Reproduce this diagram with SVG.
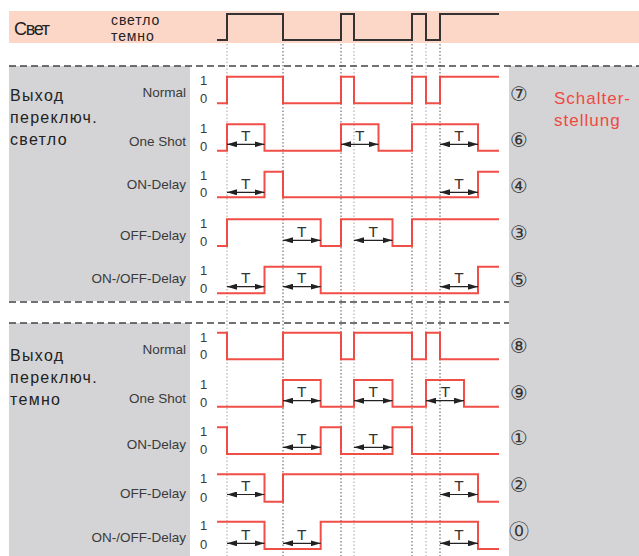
<svg xmlns="http://www.w3.org/2000/svg" width="639" height="556" viewBox="0 0 639 556">
<style>
.lbl{font-family:"Liberation Sans",Arial,sans-serif;font-size:13.5px;fill:#3a3a3a;text-anchor:end}
.lv{font-family:"Liberation Sans",Arial,sans-serif;font-size:13px;fill:#3a3a3a}
.ttl{font-family:"Liberation Sans",Arial,sans-serif;font-size:16px;fill:#222;letter-spacing:1.3px}
.wave{fill:none;stroke:#ee3b33;stroke-width:2;stroke-opacity:0.9}
.dash{stroke:#444;stroke-width:1.3;stroke-dasharray:7 4;fill:none}
.dotd{stroke:#444;stroke-width:0.9;stroke-dasharray:1.5 2;fill:none}
.dotl{stroke:#999;stroke-width:0.9;stroke-dasharray:1.5 2;fill:none}
.arr{stroke:#222;stroke-width:1.2;marker-start:url(#ah);marker-end:url(#ah)}
.t{font-family:"Liberation Sans",Arial,sans-serif;font-size:15.5px;fill:#333;text-anchor:middle}
.num{font-family:"DejaVu Sans","Noto Sans CJK JP",sans-serif;font-size:20px;fill:#333;text-anchor:middle}
.lt{font-family:"Liberation Sans",Arial,sans-serif;font-size:14px;fill:#222;letter-spacing:0.9px}
</style>
<defs>
<marker id="ah" viewBox="0 0 10 6" refX="10" refY="3" markerWidth="10" markerHeight="6" markerUnits="userSpaceOnUse" orient="auto-start-reverse"><path d="M0,0 L10,3 L0,6 z" fill="#222"/></marker>
</defs>
<rect width="639" height="556" fill="#fff"/>
<g id="backgrounds">
<rect x="9" y="11" width="630" height="32" fill="#fcd6c6"/>
<rect x="9" y="66" width="181" height="235" fill="#d4d4d6"/>
<rect x="9" y="323" width="181" height="233" fill="#d4d4d6"/>
<rect x="509" y="66" width="130" height="490" fill="#d4d4d6"/>
</g>
<g id="light">
<text x="14" y="35" style="font-family:'Liberation Sans',Arial,sans-serif;font-size:18px;fill:#222;letter-spacing:-1.3px">Свет</text>
<text class="lt" x="111" y="25.3">светло</text>
<text class="lt" x="111" y="40.6">темно</text>
<path d="M217,40 H227 V14 H283 V40 H341 V14 H354 V40 H412 V14 H426 V40 H440 V14 H499" fill="none" stroke="#333" stroke-width="2"/>
</g>
<g id="guides">
<line class="dotl" x1="227" y1="44" x2="227" y2="556"/>
<line class="dotd" x1="283" y1="44" x2="283" y2="556"/>
<line class="dotd" x1="341" y1="44" x2="341" y2="556"/>
<line class="dotl" x1="354" y1="44" x2="354" y2="556"/>
<line class="dotd" x1="412" y1="44" x2="412" y2="556"/>
<line class="dotl" x1="426" y1="44" x2="426" y2="556"/>
<line class="dotd" x1="440" y1="44" x2="440" y2="556"/>
<line class="dash" x1="9" y1="66" x2="639" y2="66"/>
<line class="dash" x1="9" y1="302" x2="509" y2="302"/>
<line class="dash" x1="9" y1="323" x2="509" y2="323"/>
</g>
<g id="section-bright">
<text class="ttl" x="10" y="100.7">Выход</text>
<text class="ttl" x="10" y="122.9">переключ.</text>
<text class="ttl" x="10" y="145">светло</text>
</g>
<g id="section-dark">
<text class="ttl" x="10" y="360.5">Выход</text>
<text class="ttl" x="10" y="382.7">переключ.</text>
<text class="ttl" x="10" y="405">темно</text>
</g>
<g id="switch-label">
<text x="554" y="104.3" style="font-family:'Liberation Sans',Arial,sans-serif;font-size:17px;fill:#ee4a40;letter-spacing:1px">Schalter-</text>
<text x="554" y="125.7" style="font-family:'Liberation Sans',Arial,sans-serif;font-size:17px;fill:#ee4a40;letter-spacing:1px">stellung</text>
</g>
<g id="b-normal">
<text class="lbl" x="186" y="97">Normal</text>
<text class="lv" x="200" y="85">1</text><text class="lv" x="200" y="103.3">0</text>
<path class="wave" d="M217,103.3 H227 V76.7 H283 V103.3 H341 V76.7 H354 V103.3 H412 V76.7 H426 V103.3 H440 V76.7 H499"/>
<text class="num" x="519" y="100.5">⑦</text>
</g>
<g id="b-oneshot">
<text class="lbl" x="186" y="146">One Shot</text>
<text class="lv" x="200" y="132.8">1</text><text class="lv" x="200" y="150.7">0</text>
<path class="wave" d="M217,150.7 H227 V124.3 H264.5 V150.7 H341 V124.3 H378.5 V150.7 H412 V124.3 H478 V150.7 H499"/>
<line class="arr" x1="227" y1="144.3" x2="264.5" y2="144.3"/><text class="t" x="245.7" y="140.8">T</text>
<line class="arr" x1="341" y1="144.3" x2="378.5" y2="144.3"/><text class="t" x="359.7" y="140.8">T</text>
<line class="arr" x1="440" y1="144.3" x2="478" y2="144.3"/><text class="t" x="459" y="140.8">T</text>
<text class="num" x="519" y="147.2">⑥</text>
</g>
<g id="b-ondelay">
<text class="lbl" x="186" y="189">ON-Delay</text>
<text class="lv" x="200" y="180.2">1</text><text class="lv" x="200" y="197.3">0</text>
<path class="wave" d="M217,197.3 H264.5 V171.7 H283 V197.3 H478 V171.7 H499"/>
<line class="arr" x1="227" y1="192.3" x2="264.5" y2="192.3"/><text class="t" x="245.7" y="188.8">T</text>
<line class="arr" x1="440" y1="192.3" x2="478" y2="192.3"/><text class="t" x="459" y="188.8">T</text>
<text class="num" x="519" y="193.2">④</text>
</g>
<g id="b-offdelay">
<text class="lbl" x="186" y="240">OFF-Delay</text>
<text class="lv" x="200" y="227.8">1</text><text class="lv" x="200" y="246">0</text>
<path class="wave" d="M217,246 H227 V219.3 H320.7 V246 H341 V219.3 H392.5 V246 H412 V219.3 H499"/>
<line class="arr" x1="283" y1="240.3" x2="320.7" y2="240.3"/><text class="t" x="301.8" y="236.8">T</text>
<line class="arr" x1="354" y1="240.3" x2="392.5" y2="240.3"/><text class="t" x="373.2" y="236.8">T</text>
<text class="num" x="519" y="239.9">③</text>
</g>
<g id="b-onoffdelay">
<text class="lbl" x="186" y="283">ON-/OFF-Delay</text>
<text class="lv" x="200" y="275.2">1</text><text class="lv" x="200" y="293.3">0</text>
<path class="wave" d="M217,293.3 H264.5 V266.7 H320.7 V293.3 H478 V266.7 H499"/>
<line class="arr" x1="227" y1="286.7" x2="264.5" y2="286.7"/><text class="t" x="245.7" y="283.2">T</text>
<line class="arr" x1="283" y1="286.7" x2="320.7" y2="286.7"/><text class="t" x="301.8" y="283.2">T</text>
<line class="arr" x1="440" y1="286.7" x2="478" y2="286.7"/><text class="t" x="459" y="283.2">T</text>
<text class="num" x="519" y="287.2">⑤</text>
</g>
<g id="d-normal">
<text class="lbl" x="186" y="354.3">Normal</text>
<text class="lv" x="200" y="342">1</text><text class="lv" x="200" y="359.3">0</text>
<path class="wave" d="M217,332.7 H227 V359.3 H283 V332.7 H341 V359.3 H354 V332.7 H412 V359.3 H426 V332.7 H440 V359.3 H499"/>
<text class="num" x="519" y="352.9">⑧</text>
</g>
<g id="d-oneshot">
<text class="lbl" x="186" y="403.3">One Shot</text>
<text class="lv" x="200" y="389">1</text><text class="lv" x="200" y="406.7">0</text>
<path class="wave" d="M217,406.7 H283 V380 H320.7 V406.7 H354 V380 H392.5 V406.7 H426 V380 H464 V406.7 H499"/>
<line class="arr" x1="283" y1="400.7" x2="320.7" y2="400.7"/><text class="t" x="301.8" y="397.2">T</text>
<line class="arr" x1="354" y1="400.7" x2="392.5" y2="400.7"/><text class="t" x="373.2" y="397.2">T</text>
<line class="arr" x1="426" y1="400.7" x2="464" y2="400.7"/><text class="t" x="445.5" y="397.2">T</text>
<text class="num" x="519" y="399.5">⑨</text>
</g>
<g id="d-ondelay">
<text class="lbl" x="186" y="449.3">ON-Delay</text>
<text class="lv" x="200" y="436">1</text><text class="lv" x="200" y="454">0</text>
<path class="wave" d="M217,427.3 H227 V454 H320.7 V427.3 H341 V454 H392.5 V427.3 H412 V454 H499"/>
<line class="arr" x1="283" y1="447.3" x2="320.7" y2="447.3"/><text class="t" x="301.8" y="443.8">T</text>
<line class="arr" x1="354" y1="447.3" x2="392.5" y2="447.3"/><text class="t" x="373.2" y="443.8">T</text>
<text class="num" x="519" y="444.5">①</text>
</g>
<g id="d-offdelay">
<text class="lbl" x="186" y="498.3">OFF-Delay</text>
<text class="lv" x="200" y="483">1</text><text class="lv" x="200" y="501.7">0</text>
<path class="wave" d="M217,474.3 H264.5 V501.7 H283 V474.3 H478 V501.7 H499"/>
<line class="arr" x1="227" y1="494.5" x2="264.5" y2="494.5"/><text class="t" x="245.7" y="491">T</text>
<line class="arr" x1="440" y1="494.5" x2="478" y2="494.5"/><text class="t" x="459" y="491">T</text>
<text class="num" x="519" y="492.2">②</text>
</g>
<g id="d-onoffdelay">
<text class="lbl" x="186" y="541.7">ON-/OFF-Delay</text>
<text class="lv" x="200" y="530.3">1</text><text class="lv" x="200" y="549">0</text>
<path class="wave" d="M217,521.7 H264.5 V549 H320.7 V521.7 H478 V549 H499"/>
<line class="arr" x1="227" y1="543.3" x2="264.5" y2="543.3"/><text class="t" x="245.7" y="539.8">T</text>
<line class="arr" x1="283" y1="543.3" x2="320.7" y2="543.3"/><text class="t" x="301.8" y="539.8">T</text>
<line class="arr" x1="440" y1="543.3" x2="478" y2="543.3"/><text class="t" x="459" y="539.8">T</text>
<text class="num" x="519" y="539">⓪</text>
</g>
</svg>
